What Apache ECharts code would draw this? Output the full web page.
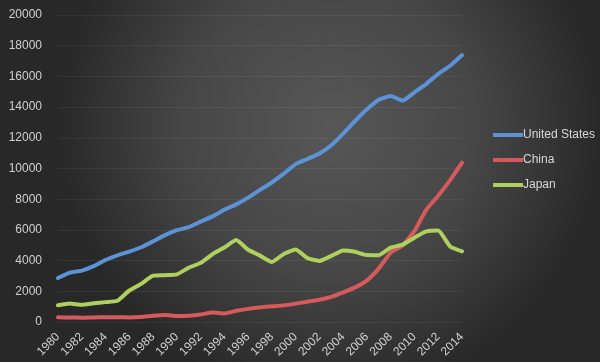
<!DOCTYPE html>
<html>
<head>
<meta charset="utf-8">
<script src="https://cdn.jsdelivr.net/npm/echarts@6/dist/echarts.min.js"></script>
<style>
html,body{margin:0;padding:0;background:#333;}
#c{width:600px;height:362px;}
</style>
</head>
<body>
<div id="c"></div>
<script>
var years = ['1980','1981','1982','1983','1984','1985','1986','1987','1988','1989','1990','1991','1992','1993','1994','1995','1996','1997','1998','1999','2000','2001','2002','2003','2004','2005','2006','2007','2008','2009','2010','2011','2012','2013','2014'];
var unitedStates = [2862,3211,3345,3638,4041,4347,4590,4870,5253,5658,5980,6174,6539,6879,7309,7664,8100,8609,9089,9661,10285,10622,10978,11511,12275,13094,13856,14478,14719,14419,14964,15518,16155,16692,17393];
var china = [306,289,284,301,311,307,297,324,404,451,391,409,488,613,559,728,856,953,1019,1083,1198,1325,1453,1640,1931,2257,2713,3494,4520,4990,5930,7322,8229,9240,10380];
var japan = [1087,1201,1117,1219,1295,1385,2052,2485,3016,3050,3104,3537,3852,4415,4850,5334,4706,4324,3915,4433,4731,4160,3980,4303,4656,4572,4357,4356,4849,5035,5495,5906,5954,4920,4602];
var yTicks = [0,2000,4000,6000,8000,10000,12000,14000,16000,18000,20000];

var chart = echarts.init(document.getElementById('c'), null, {renderer:'canvas'});
var font = 'Liberation Sans, Arial, sans-serif';
function mk(name, data, color){
  return {name:name, type:'line', data:data, smooth:0.15, showSymbol:false, symbol:'none',
    lineStyle:{color:color, width:4, cap:'round', join:'round'}, itemStyle:{color:color}};
}
chart.setOption({
  backgroundColor: new echarts.graphic.RadialGradient(0.55, 0.35, 0.75, [
    {offset:0, color:'#575757'},
    {offset:0.55, color:'#464646'},
    {offset:1, color:'#282828'}
  ]),
  animation:false,
  grid:{left:58, right:138, top:15, bottom:40, containLabel:false},
  legend:{
    orient:'vertical', left:488, top:124, itemGap:13, itemWidth:30, itemHeight:4,
    icon:'rect',
    textStyle:{color:'#d8d8d8', fontSize:12, fontFamily:font, padding:[0,0,0,-5]},
    data:['United States','China','Japan']
  },
  xAxis:{
    type:'category', data:years, boundaryGap:false,
    axisLine:{show:false}, axisTick:{show:false},
    axisLabel:{color:'#d0d0d0', fontSize:12, fontFamily:font, rotate:45, interval:1, margin:13}
  },
  yAxis:{
    type:'value', min:0, max:20000, interval:2000,
    axisLine:{show:false}, axisTick:{show:false},
    axisLabel:{color:'#d0d0d0', fontSize:12, fontFamily:font, margin:16,
      formatter:function(v){return yTicks.indexOf(v)>=0 ? String(v) : '';}},
    splitLine:{lineStyle:{color:'rgba(255,255,255,0.06)', width:1}}
  },
  series:[
    mk('United States', unitedStates, '#5b93d6'),
    mk('China', china, '#d65a5c'),
    mk('Japan', japan, '#aed05e')
  ]
});
</script>
</body>
</html>
